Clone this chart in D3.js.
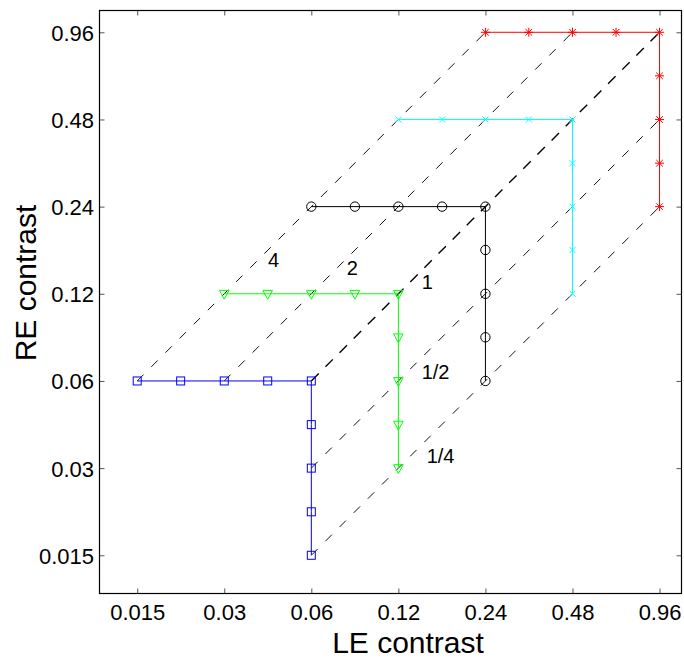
<!DOCTYPE html>
<html>
<head>
<meta charset="utf-8">
<script src="https://cdn.jsdelivr.net/npm/d3@7"></script>
<style>
  html, body { margin: 0; padding: 0; background: #fff; }
  svg { display: block; font-family: "Liberation Sans", Arial, Helvetica, sans-serif; }
</style>
</head>
<body>
<svg id="chart" width="684" height="658"></svg>
<script>
// Contrast levels shown on both axes
const tickValues = [0.015, 0.03, 0.06, 0.12, 0.24, 0.48, 0.96];
const tickLabels = ["0.015", "0.03", "0.06", "0.12", "0.24", "0.48", "0.96"];

// Each series: LE sweep at fixed RE, then RE sweep at fixed LE
const blueLE  = [0.015, 0.0212, 0.03, 0.0424, 0.06, 0.06, 0.06, 0.06, 0.06];
const blueRE  = [0.06, 0.06, 0.06, 0.06, 0.06, 0.0424, 0.03, 0.0212, 0.015];
const greenLE = [0.03, 0.0424, 0.06, 0.0849, 0.12, 0.12, 0.12, 0.12, 0.12];
const greenRE = [0.12, 0.12, 0.12, 0.12, 0.12, 0.0849, 0.06, 0.0424, 0.03];
const blackLE = [0.06, 0.0849, 0.12, 0.17, 0.24, 0.24, 0.24, 0.24, 0.24];
const blackRE = [0.24, 0.24, 0.24, 0.24, 0.24, 0.17, 0.12, 0.0849, 0.06];
const cyanLE  = [0.12, 0.17, 0.24, 0.339, 0.48, 0.48, 0.48, 0.48, 0.48];
const cyanRE  = [0.48, 0.48, 0.48, 0.48, 0.48, 0.339, 0.24, 0.17, 0.12];
const redLE   = [0.24, 0.339, 0.48, 0.679, 0.96, 0.96, 0.96, 0.96, 0.96];
const redRE   = [0.96, 0.96, 0.96, 0.96, 0.96, 0.679, 0.48, 0.339, 0.24];

// Iso-ratio guide lines (RE/LE), end points
const ratioLabels = ["4", "2", "1", "1/2", "1/4"];
const ratioStartLE = [0.015, 0.03, 0.06, 0.06, 0.06];
const ratioStartRE = [0.06, 0.06, 0.06, 0.03, 0.015];
const ratioEndLE   = [0.24, 0.48, 0.96, 0.96, 0.96];
const ratioEndRE   = [0.96, 0.96, 0.96, 0.48, 0.24];
// Where each ratio label sits (LE, RE of the text's left baseline)
const ratioLabelLE = [0.0425, 0.0795, 0.1445, 0.1445, 0.1503];
const ratioLabelRE = [0.1485, 0.1394, 0.1243, 0.0608, 0.0313];

const series = [
  { le: blueLE,  re: blueRE,  color: "#0000ff", marker: "square" },
  { le: greenLE, re: greenRE, color: "#00ff00", marker: "triangle" },
  { le: blackLE, re: blackRE, color: "#000000", marker: "circle" },
  { le: cyanLE,  re: cyanRE,  color: "#00ffff", marker: "cross" },
  { le: redLE,   re: redRE,   color: "#ff0000", marker: "asterisk" }
];

const svg = d3.select("#chart");
const L = 99.5, R = 681.5, T = 10.5, B = 593.5;

const x = d3.scaleLog().base(2).domain([0.01111, 1.1435]).range([L, R]);
const y = d3.scaleLog().base(2).domain([0.01107, 1.1416]).range([B, T]);

// Axes with inward ticks; mirrored on top and right
const tickLen = 5;
const axes = svg.append("g").attr("class", "axes");

const xb = d3.axisBottom(x).tickValues(tickValues).tickFormat((d, i) => tickLabels[i])
  .tickSizeInner(-tickLen).tickSizeOuter(0).tickPadding(26);
const xt = d3.axisTop(x).tickValues(tickValues).tickFormat("").tickSizeInner(-tickLen).tickSizeOuter(0);
const yl = d3.axisLeft(y).tickValues(tickValues).tickFormat((d, i) => tickLabels[i])
  .tickSizeInner(-tickLen).tickSizeOuter(0).tickPadding(5.5);
const yr = d3.axisRight(y).tickValues(tickValues).tickFormat("").tickSizeInner(-tickLen).tickSizeOuter(0);

function styleAxis(g, dy) {
  g.select(".domain").remove();
  g.attr("font-family", null).attr("font-size", null);
  g.selectAll(".tick line").attr("stroke", "#555").attr("stroke-width", 1);
  g.selectAll(".tick text").attr("fill", "#000").attr("font-size", 22).attr("dy", dy);
}
axes.append("g").attr("transform", `translate(0,${B})`).call(xb).call(styleAxis, 0);
axes.append("g").attr("transform", `translate(0,${T})`).call(xt).call(styleAxis, 0);
axes.append("g").attr("transform", `translate(${L},0)`).call(yl).call(styleAxis, 8);
axes.append("g").attr("transform", `translate(${R},0)`).call(yr).call(styleAxis, 0);

// Frame
svg.append("rect").attr("x", L).attr("y", T).attr("width", R - L).attr("height", B - T)
  .attr("fill", "none").attr("stroke", "#000").attr("stroke-width", 1.2);

// Iso-ratio dashed guides
const guides = svg.append("g");
ratioLabels.forEach((lab, i) => {
  const unity = lab === "1";
  guides.append("line")
    .attr("x1", x(ratioStartLE[i])).attr("y1", y(ratioStartRE[i]))
    .attr("x2", x(ratioEndLE[i])).attr("y2", y(ratioEndRE[i]))
    .attr("stroke", unity ? "#000" : "#111")
    .attr("stroke-width", unity ? 1.4 : 1)
    .attr("stroke-dasharray", unity ? "10.5,9.5" : "9,11");
  guides.append("text")
    .attr("x", x(ratioLabelLE[i])).attr("y", y(ratioLabelRE[i]))
    .attr("font-size", 20).attr("fill", "#000")
    .text(lab);
});

// Series lines and markers
const line = d3.line().x(d => x(d[0])).y(d => y(d[1]));
function drawMarker(g, m, cx, cy, color) {
  const s = g.append("g").attr("transform", `translate(${cx},${cy})`)
    .attr("fill", "none").attr("stroke", color).attr("stroke-width", 1);
  if (m === "square") {
    s.append("rect").attr("x", -4).attr("y", -4).attr("width", 8).attr("height", 8);
  } else if (m === "triangle") {
    s.append("path").attr("d", "M-4.8,-3.4L4.8,-3.4L0,5.4Z");
  } else if (m === "circle") {
    s.append("circle").attr("r", 4.7);
  } else if (m === "cross") {
    s.append("path").attr("d", "M-3,-3L3,3M-3,3L3,-3");
  } else if (m === "asterisk") {
    s.append("path").attr("d", "M-4.5,0L4.5,0M0,-4.5L0,4.5M-3.3,-3.3L3.3,3.3M-3.3,3.3L3.3,-3.3");
  }
}
series.forEach(sr => {
  const pts = sr.le.map((v, i) => [v, sr.re[i]]);
  svg.append("path").datum(pts).attr("d", line)
    .attr("fill", "none").attr("stroke", sr.color).attr("stroke-width", 1);
  const mg = svg.append("g");
  pts.forEach(p => drawMarker(mg, sr.marker, x(p[0]), y(p[1]), sr.color));
});

// Axis titles
svg.append("text").attr("x", 408).attr("y", 653).attr("text-anchor", "middle")
  .attr("font-size", 30).attr("fill", "#000").text("LE contrast");
svg.append("text").attr("transform", "translate(36,283) rotate(-90)").attr("text-anchor", "middle")
  .attr("font-size", 30).attr("fill", "#000").text("RE contrast");
</script>
</body>
</html>
